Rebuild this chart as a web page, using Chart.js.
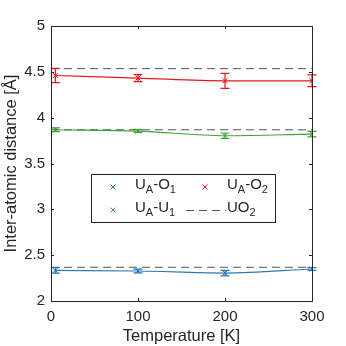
<!DOCTYPE html>
<html>
<head>
<meta charset="utf-8">
<script src="https://cdn.jsdelivr.net/npm/chart.js@4"></script>
<style>
  html, body { margin: 0; padding: 0; background: #fff; }
  #wrap { width: 346px; height: 346px; }
</style>
</head>
<body>
<div id="wrap"><canvas id="c" width="346" height="346"></canvas></div>
<script>
var temps = [5, 100, 200, 300];
var uaO1 = [2.334, 2.327, 2.305, 2.349];
var uaO1Err = [0.03, 0.02, 0.03, 0.015];
var uaU1 = [3.868, 3.854, 3.803, 3.821];
var uaU1Err = [0.02, 0.015, 0.03, 0.03];
var uaO2 = [4.46, 4.432, 4.402, 4.402];
var uaO2Err = [0.077, 0.038, 0.082, 0.064];
var uo2Ref = [2.368, 3.868, 4.535];
var refX = [0, 300];
var legendLabels = ['U_A-O_1', 'U_A-O_2', 'U_A-U_1', 'UO_2'];

var blue = '#2A7AB9';
var red = '#E41A1C';
var green = '#3DA33A';
var refColor = '#555555';
var axisColor = '#262626';
var font = '"Liberation Sans", Arial, Helvetica, sans-serif';

function pts(xs, ys) {
  return xs.map(function(x, i) { return { x: x, y: ys[i] }; });
}

function series(label, ys, err, color) {
  return {
    label: label,
    data: pts(temps, ys),
    err: err,
    borderColor: color,
    backgroundColor: color,
    borderWidth: 1.2,
    pointStyle: 'crossRot',
    pointRadius: 3.5,
    pointBorderWidth: 1,
    cubicInterpolationMode: 'monotone'
  };
}

var datasets = [
  series(legendLabels[0], uaO1, uaO1Err, blue),
  series(legendLabels[1], uaO2, uaO2Err, red),
  series(legendLabels[2], uaU1, uaU1Err, green)
];
uo2Ref.forEach(function(v) {
  datasets.push({
    label: legendLabels[3],
    data: pts(refX, [v, v]),
    borderColor: refColor,
    borderWidth: 1,
    borderDash: [8, 5],
    pointRadius: 0
  });
});

/* error bars from the err arrays, via the scales */
var errorBarPlugin = {
  id: 'errorBars',
  afterDatasetsDraw: function(chart) {
    var c = chart.ctx, xs = chart.scales.x, ys = chart.scales.y;
    chart.data.datasets.forEach(function(ds) {
      if (!ds.err) return;
      c.save();
      c.strokeStyle = ds.borderColor;
      c.lineWidth = 1.2;
      ds.data.forEach(function(p, i) {
        var x = xs.getPixelForValue(p.x);
        var y1 = ys.getPixelForValue(p.y + ds.err[i]);
        var y2 = ys.getPixelForValue(p.y - ds.err[i]);
        c.beginPath();
        c.moveTo(x, y1); c.lineTo(x, y2);
        c.moveTo(x - 4.5, y1); c.lineTo(x + 4.5, y1);
        c.moveTo(x - 4.5, y2); c.lineTo(x + 4.5, y2);
        c.stroke();
      });
      c.restore();
    });
  }
};

/* box with inward ticks, MATLAB style */
var boxPlugin = {
  id: 'box',
  afterDraw: function(chart) {
    var c = chart.ctx, a = chart.chartArea, xs = chart.scales.x, ys = chart.scales.y;
    var tl = 3;
    c.save();
    c.strokeStyle = axisColor;
    c.lineWidth = 1;
    c.strokeRect(a.left + 0.5, a.top + 0.5, a.right - a.left, a.bottom - a.top);
    c.beginPath();
    xs.ticks.forEach(function(t) {
      var x = Math.round(xs.getPixelForValue(t.value)) + 0.5;
      c.moveTo(x, a.bottom); c.lineTo(x, a.bottom - tl);
      c.moveTo(x, a.top); c.lineTo(x, a.top + tl);
    });
    ys.ticks.forEach(function(t) {
      var y = Math.round(ys.getPixelForValue(t.value)) + 0.5;
      c.moveTo(a.left, y); c.lineTo(a.left + tl, y);
      c.moveTo(a.right, y); c.lineTo(a.right - tl, y);
    });
    c.stroke();
    c.restore();
  }
};

function drawRich(c, text, x, y) {
  var i = 0;
  while (i < text.length) {
    var ch = text[i];
    if (ch === '_') {
      var s = text[i + 1];
      c.font = '11px ' + font;
      c.fillText(s, x, y + 5);
      x += c.measureText(s).width;
      i += 2;
    } else {
      c.font = '15px ' + font;
      c.fillText(ch, x, y);
      x += c.measureText(ch).width;
      i += 1;
    }
  }
}

var legendPlugin = {
  id: 'richLegend',
  afterDraw: function(chart) {
    var c = chart.ctx;
    var bx = 91, by = 174, bw = 184, bh = 48;
    c.save();
    c.fillStyle = '#fff';
    c.fillRect(bx, by, bw, bh);
    c.strokeStyle = axisColor;
    c.lineWidth = 1;
    c.strokeRect(bx + 0.5, by + 0.5, bw, bh);
    var rows = [187, 210];
    var entries = [
      { col: 0, row: 0, color: blue, label: legendLabels[0] },
      { col: 1, row: 0, color: red, label: legendLabels[1] },
      { col: 0, row: 1, color: green, label: legendLabels[2] },
      { col: 1, row: 1, color: refColor, label: legendLabels[3], dash: true }
    ];
    var colMark = [113, 205], colText = [135, 227];
    entries.forEach(function(e) {
      var y = rows[e.row];
      c.strokeStyle = e.color;
      c.lineWidth = 1;
      c.beginPath();
      if (e.dash) {
        c.setLineDash([8, 5]);
        c.moveTo(186, y + 0.5); c.lineTo(226, y + 0.5);
        c.stroke();
        c.setLineDash([]);
      } else {
        var m = colMark[e.col], r = 2.5;
        c.moveTo(m - r, y - r); c.lineTo(m + r, y + r);
        c.moveTo(m - r, y + r); c.lineTo(m + r, y - r);
        c.stroke();
      }
      c.fillStyle = axisColor;
      c.textBaseline = 'middle';
      c.textAlign = 'left';
      drawRich(c, e.label, colText[e.col], y - 2);
    });
    c.restore();
  }
};

new Chart(document.getElementById('c'), {
  type: 'line',
  data: { datasets: datasets },
  options: {
    responsive: false,
    animation: false,
    layout: { padding: { top: 26, right: 34, left: 0, bottom: 0 } },
    plugins: { legend: { display: false }, tooltip: { enabled: false } },
    scales: {
      x: {
        type: 'linear',
        min: 0, max: 300,
        grid: { display: false, drawTicks: false },
        border: { display: false },
        ticks: { stepSize: 100, padding: 7, color: axisColor, font: { family: font, size: 15 } },
        title: { display: true, text: 'Temperature [K]', color: axisColor, font: { family: font, size: 16.5 }, padding: { top: 0, bottom: 0 } },
        afterFit: function(axis) { axis.height = 45; }
      },
      y: {
        min: 2, max: 5,
        grid: { display: false, drawTicks: false },
        border: { display: false },
        ticks: {
          stepSize: 0.5, padding: 6, color: axisColor, font: { family: font, size: 15 },
          callback: function(v) { return String(v); }
        },
        title: { display: true, text: 'Inter-atomic distance [Å]', color: axisColor, font: { family: font, size: 16.5 }, padding: { top: 2, bottom: 0 } },
        afterFit: function(axis) { axis.width = 51; }
      }
    }
  },
  plugins: [errorBarPlugin, boxPlugin, legendPlugin]
});
</script>
</body>
</html>
